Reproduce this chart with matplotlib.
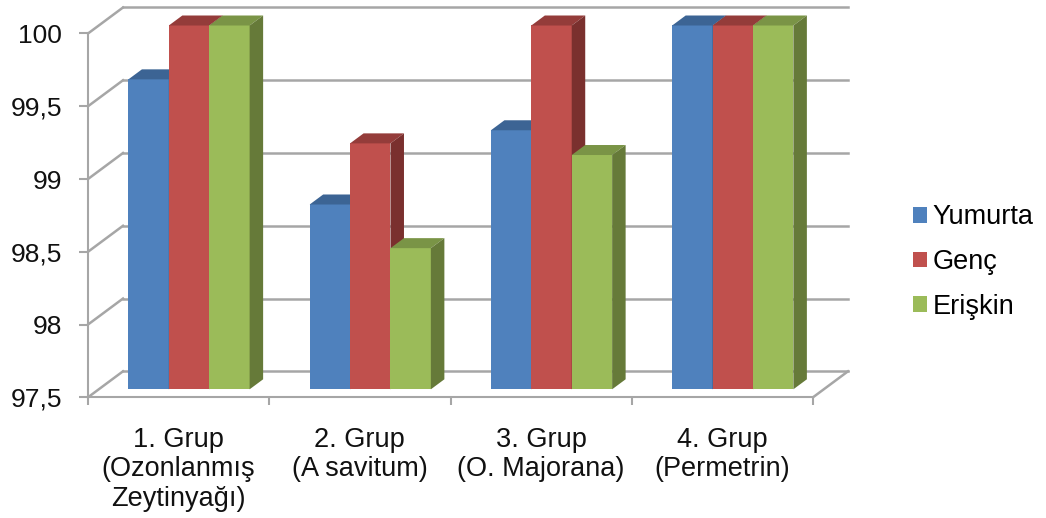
import matplotlib
matplotlib.use("Agg")
import matplotlib.pyplot as plt
from matplotlib.patches import Polygon, Patch

plt.rcParams['font.family'] = ['Liberation Sans', 'DejaVu Sans']

categories = ["1. Grup\n(Ozonlanmış\nZeytinyağı)", "2. Grup\n(A savitum)", "3. Grup\n(O. Majorana)", "4. Grup\n(Permetrin)"]
yumurta = [99.63, 98.77, 99.28, 100]
genc = [100, 99.19, 100, 100]
eriskin = [100, 98.47, 99.11, 100]
series_names = ["Yumurta", "Genç", "Erişkin"]
y_ticks = [97.5, 98, 98.5, 99, 99.5, 100]
y_labels = ["97,5", "98", "98,5", "99", "99,5", "100"]

front = ['#4F81BD', '#C0504D', '#9BBB59']
top = ['#3C6494', '#943C3A', '#7A9446']
side = ['#34557E', '#7A302E', '#667A39']
grid = '#A6A6A6'

W, H = 1046, 518
fig = plt.figure(figsize=(W / 100, H / 100), dpi=100)
ax = fig.add_axes([88 / W, 1 - 397.3 / H, (813 - 88) / W, (397.3 - 33.5) / H])
ax.set_xlim(0, 4)
ax.set_ylim(97.5, 100)
ymin = 97.5

# unit sizes, used to turn pixel depths into data units
px_x = (813 - 88) / 4
px_y = (397.3 - 33.5) / 2.5
wall_dx, wall_dy = 35 / px_x, 26 / px_y
bar_dx, bar_dy = 13.5 / px_x, 10 / px_y
base_dx, base_dy = 10.4 / px_x, 8 / px_y
bar_w = 40.4 / px_x

# back wall and side wall
for v in y_ticks:
    ax.plot([wall_dx, 4 + wall_dx], [v + wall_dy, v + wall_dy], color=grid, lw=1.8, clip_on=False, zorder=1)
    ax.plot([0, wall_dx], [v, v + wall_dy], color=grid, lw=1.8, clip_on=False, zorder=1)
ax.plot([4, 4 + wall_dx], [ymin, ymin + wall_dy], color=grid, lw=1.8, clip_on=False, zorder=1)

z = 3
for i in range(len(categories)):
    for j, values in enumerate([yumurta, genc, eriskin]):
        v = values[i]
        x0 = i + 0.5 - 1.5 * bar_w + j * bar_w + base_dx
        x1 = x0 + bar_w
        y0 = ymin + base_dy
        y1 = v + base_dy
        ax.bar(x0, v - ymin, width=bar_w, bottom=y0, align='edge', color=front[j], clip_on=False, zorder=z)
        ax.add_patch(Polygon([(x0, y1), (x1, y1), (x1 + bar_dx, y1 + bar_dy), (x0 + bar_dx, y1 + bar_dy)],
                             closed=True, facecolor=top[j], edgecolor='none', clip_on=False, zorder=z))
        ax.add_patch(Polygon([(x1, y0), (x1 + bar_dx, y0 + bar_dy), (x1 + bar_dx, y1 + bar_dy), (x1, y1)],
                             closed=True, facecolor=side[j], edgecolor='none', clip_on=False, zorder=z))
        z += 1

for s in ['top', 'right']:
    ax.spines[s].set_visible(False)
for s in ['left', 'bottom']:
    ax.spines[s].set_color(grid)
    ax.spines[s].set_linewidth(1.5)
    ax.spines[s].set_zorder(2)

ax.set_yticks(y_ticks)
ax.set_yticklabels(y_labels, fontsize=19, color='#111111')
ax.tick_params(axis='y', length=6.5, width=1.5, color=grid, pad=12)
ax.set_xticks(range(5))
ax.set_xticklabels([])
ax.tick_params(axis='x', which='major', length=6, width=1.5, color=grid)
ax.set_xticks([i + 0.5 for i in range(4)], minor=True)
ax.set_xticklabels(categories, minor=True, fontsize=19.5, color='#111111', linespacing=1.16)
ax.tick_params(axis='x', which='minor', length=0, pad=21.5)

handles = [Patch(facecolor=front[k], label=series_names[k]) for k in range(3)]
fig.legend(handles=handles, loc='center left', bbox_to_anchor=(912.7 / W, 1 - 262 / H),
           bbox_transform=fig.transFigure, frameon=False, fontsize=19.5, borderpad=0, borderaxespad=0,
           handlelength=0.52, handleheight=0.52, handletextpad=0.22, labelspacing=0.69)

fig.savefig("out.png", dpi=100)
